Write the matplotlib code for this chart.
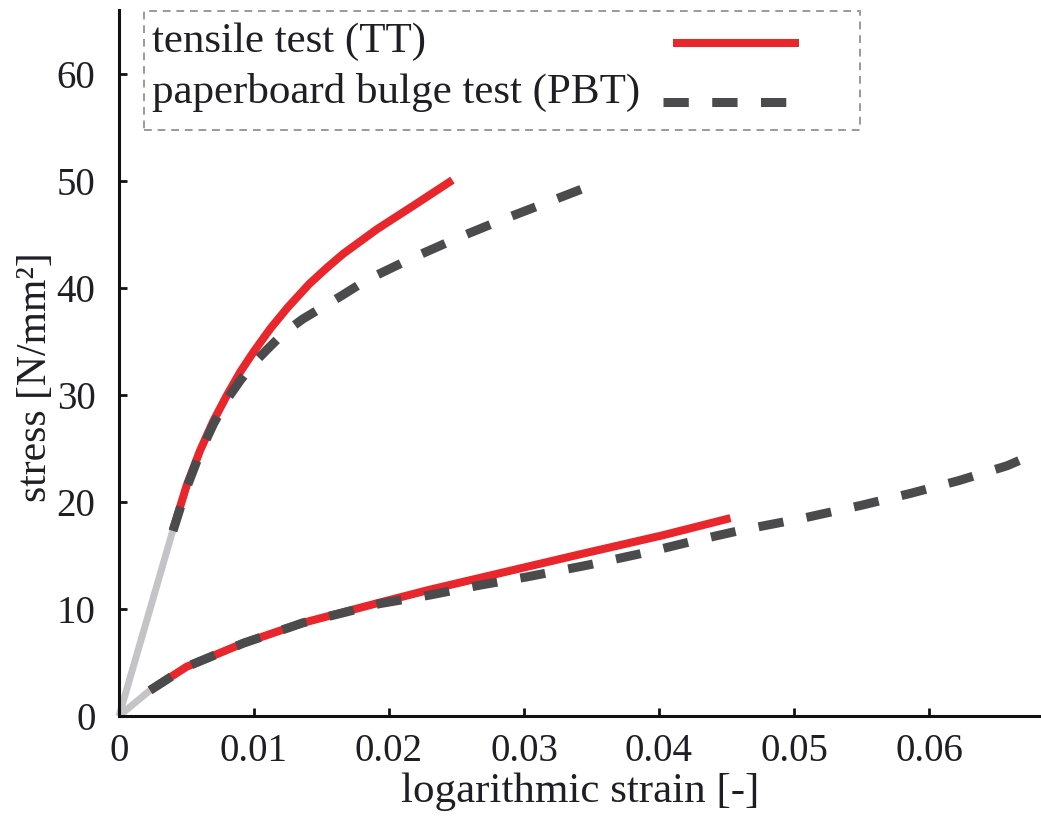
import numpy as np
import matplotlib
matplotlib.use("Agg")
import matplotlib.pyplot as plt
from matplotlib.lines import Line2D
from matplotlib.patches import Rectangle

# strain [-] / stress [N/mm^2]
tt_upper_x = [0.0040, 0.0050, 0.0060, 0.0070, 0.0080, 0.0090, 0.0100, 0.0112,
              0.0125, 0.0141, 0.0154, 0.0166, 0.0191, 0.0218, 0.0247]
tt_upper_y = [17.4, 21.5, 24.8, 27.6, 30.0, 32.2, 34.1, 36.2, 38.2, 40.4, 41.9, 43.2,
              45.5, 47.7, 50.1]

pbt_upper_x = [0.0040, 0.0050, 0.0060, 0.0070, 0.0080, 0.0090, 0.0100, 0.0110, 0.0122,
               0.0136, 0.0165, 0.0184, 0.0217, 0.0251, 0.0284, 0.0317, 0.0356]
pbt_upper_y = [17.3, 21.3, 24.6, 27.3, 29.6, 31.4, 33.0, 34.3, 35.8,
               37.1, 39.3, 40.8, 42.8, 44.7, 46.4, 48.0, 49.9]

tt_lower_x = [0.0023, 0.0050, 0.0092, 0.0136, 0.0193, 0.0230, 0.0267, 0.0304, 0.0341,
              0.0403, 0.0453]
tt_lower_y = [2.4, 4.6, 6.8, 8.7, 10.6, 11.8, 12.9, 14.0, 15.1, 16.9, 18.5]

pbt_lower_x = [0.0023, 0.0050, 0.0092, 0.0136, 0.0193, 0.0230, 0.0266, 0.0302, 0.0347,
               0.0391, 0.0427, 0.0462, 0.0507, 0.0550, 0.0586, 0.0622, 0.0658, 0.0669]
pbt_lower_y = [2.4, 4.6, 6.8, 8.7, 10.5, 11.3, 12.2, 13.0, 14.1,
               15.3, 16.4, 17.4, 18.5, 19.7, 20.8, 22.0, 23.4, 24.0]

# elastic parts, drawn in light grey
elastic_upper_x = [0.0, 0.0040]
elastic_upper_y = [0.0, 17.4]
elastic_lower_x = [0.0, 0.0023]
elastic_lower_y = [0.0, 2.4]

x_ticks = [0, 0.01, 0.02, 0.03, 0.04, 0.05, 0.06]
x_tick_labels = ["0", "0.01", "0.02", "0.03", "0.04", "0.05", "0.06"]
y_ticks = [0, 10, 20, 30, 40, 50, 60]

labels = ["tensile test (TT)", "paperboard bulge test (PBT)"]

red = "#e8262b"
dark = "#4b4b4d"
light = "#c4c4c8"
txt = "#1e1e24"

W, H = 1041, 818
plt.rcParams["font.family"] = ["Liberation Serif", "DejaVu Serif"]

fig = plt.figure(figsize=(W / 100, H / 100), dpi=100)
ax = fig.add_axes([119 / W, 1 - 716 / H, 1 - 119 / W, (716 - 10) / H])

red_kw = dict(color=red, lw=5.8, solid_capstyle="butt")
dash_kw = dict(color=dark, lw=6.5, dashes=(2.8, 2.6), dash_capstyle="butt")

ax.plot(elastic_upper_x, elastic_upper_y, color=light, lw=5, solid_capstyle="butt", clip_on=False)
ax.plot(elastic_lower_x, elastic_lower_y, color=light, lw=5, solid_capstyle="butt", clip_on=False)
ax.plot(tt_upper_x, tt_upper_y, **red_kw)
ax.plot(tt_lower_x, tt_lower_y, **red_kw)
ax.plot(pbt_upper_x, pbt_upper_y, **dash_kw)
ax.plot(pbt_lower_x, pbt_lower_y, **dash_kw)

ax.set_xlim(0, 0.0683)
ax.set_ylim(0, 66)
ax.set_xticks(x_ticks)
ax.set_xticklabels(x_tick_labels)
ax.set_yticks(y_ticks)

for s in ["top", "right"]:
    ax.spines[s].set_visible(False)
for s in ["left", "bottom"]:
    ax.spines[s].set_linewidth(2.2)
    ax.spines[s].set_color("#111111")

ax.tick_params(direction="in", length=6, width=2, labelsize=28, colors="#111111",
               labelcolor=txt)
ax.tick_params(axis="x", pad=12)
ax.tick_params(axis="y", pad=17)
ax.set_xlabel("logarithmic strain [-]", fontsize=31, color=txt, labelpad=2)
ax.set_ylabel("stress [N/mm²]", fontsize=30, color=txt)
ax.yaxis.set_label_coords(-64 / 922, (716 - 377) / 706)

# legend: text left, samples on the right, dashed frame
def fx(px):
    return px / W

def fy(py):
    return 1 - py / H

fig.add_artist(Rectangle((fx(144), fy(130)), fx(860) - fx(144), fy(11) - fy(130),
                         transform=fig.transFigure, fill=False, edgecolor="#9a9a9a",
                         lw=1.4, linestyle=(0, (4, 3))))
fig.text(fx(152), fy(52), labels[0], fontsize=31, color=txt, va="baseline")
fig.text(fx(152), fy(103), labels[1], fontsize=31, color=txt, va="baseline")
fig.add_artist(Line2D([fx(673), fx(799)], [fy(43), fy(43)], transform=fig.transFigure, **red_kw))
fig.add_artist(Line2D([fx(663), fx(794)], [fy(102), fy(102)], transform=fig.transFigure, **dash_kw))

fig.savefig("out.png", dpi=100)
